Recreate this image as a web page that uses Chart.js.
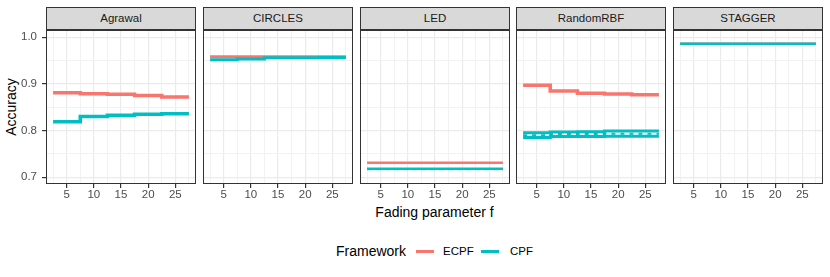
<!DOCTYPE html>
<html>
<head>
<meta charset="utf-8">
<script src="https://cdn.jsdelivr.net/npm/chart.js@4.4.1/dist/chart.umd.min.js"></script>
<style>
  body { margin: 0; width: 830px; height: 277px; background: #fff; position: relative; overflow: hidden;
         font-family: "Liberation Sans", Arial, sans-serif; }
  canvas { position: absolute; top: 30px; }
  .strip { position: absolute; top: 7px; width: 148px; height: 21px; line-height: 21px; background: #d9d9d9;
           border: 1px solid #333; color: #1a1a1a; font-size: 11.5px; text-align: center; }
  .title { position: absolute; font-size: 14px; color: #000; white-space: nowrap; }
  .key { position: absolute; height: 3px; top: 250px; }
  .klabel { position: absolute; font-size: 11.5px; color: #000; top: 244px; line-height: 15px; }
</style>
</head>
<body>
<div class="title" style="left:-66px;top:99px;width:154px;height:16px;line-height:16px;text-align:center;transform:rotate(-90deg);">Accuracy</div>
<div class="title" style="left:46px;top:204px;width:777px;line-height:17px;text-align:center;">Fading parameter f</div>
<div class="title" style="left:336px;top:243px;line-height:17px;">Framework</div>
<div class="key" style="left:416px;width:18px;background:#F8766D;"></div>
<div class="klabel" style="left:443px;">ECPF</div>
<div class="key" style="left:481px;width:18px;background:#00BFC4;"></div>
<div class="klabel" style="left:510px;">CPF</div>

<script>
const streams = ["Agrawal", "CIRCLES", "LED", "RandomRBF", "STAGGER"];
const fadingF = [2.5, 7.5, 12.5, 17.5, 22.5, 27.5];
const xTickValues = [2.5, 5, 7.5, 10, 12.5, 15, 17.5, 20, 22.5, 25, 27.5];
const yTickValues = [0.7, 0.75, 0.8, 0.85, 0.9, 0.95, 1.0];

// accuracy per fading step (last value repeats so the step reaches the end)
const ecpfAgrawal = [0.881, 0.879, 0.878, 0.875, 0.872, 0.872];
const cpfAgrawal = [0.819, 0.830, 0.833, 0.835, 0.836, 0.836];
const ecpfCircles = [0.9585, 0.9585, 0.9585, 0.9585, 0.9585, 0.9585];
const cpfCircles = [0.952, 0.9535, 0.956, 0.956, 0.9565, 0.9565];
const ecpfLed = [0.731, 0.731, 0.731, 0.731, 0.731, 0.731];
const cpfLed = [0.7182, 0.7182, 0.7182, 0.7182, 0.7182, 0.7182];
const cpfLed2 = [0.7172, 0.7172, 0.7172, 0.7172, 0.7172, 0.7172];
const ecpfRbf = [0.897, 0.885, 0.880, 0.8786, 0.877, 0.877];
const cpfRbfHigh = [0.7955, 0.797, 0.7975, 0.799, 0.799, 0.799];
const cpfRbfMid = [0.790, 0.7925, 0.793, 0.7935, 0.7935, 0.7935];
const cpfRbfLow = [0.7855, 0.7875, 0.7875, 0.788, 0.788, 0.788];
const ecpfStagger = [0.986, 0.986, 0.986, 0.986, 0.986, 0.986];
const cpfStagger = [0.986, 0.986, 0.986, 0.986, 0.986, 0.986];

const RED = "#F8766D", CYAN = "#00BFC4";
const panelLefts = [46, 203, 360, 516, 673];
const plotW = 150, plotH = 154, xAxisH = 20, yAxisW = 46;

const series = [
  [{ v: ecpfAgrawal, c: RED, w: 3.5 }, { v: cpfAgrawal, c: CYAN, w: 3.5 }],
  [{ v: ecpfCircles, c: RED, w: 3 }, { v: cpfCircles, c: CYAN, w: 3 }],
  [{ v: ecpfLed, c: RED, w: 2.5 }, { v: cpfLed, c: CYAN, w: 2.5 }, { v: cpfLed2, c: "#1fc9cd", w: 2, dash: [5, 4] }],
  [{ v: ecpfRbf, c: RED, w: 3.5 }, { v: cpfRbfHigh, c: CYAN, w: 3 }, { v: cpfRbfLow, c: CYAN, w: 3 }, { v: cpfRbfMid, c: CYAN, w: 2, dash: [4, 5] }],
  [{ v: ecpfStagger, c: RED, w: 2.5 }, { v: cpfStagger, c: CYAN, w: 2.5 }]
];

const isMajorX = (v) => Math.abs(v % 5) < 1e-9;
const isMajorY = (v) => Math.abs(v * 10 - Math.round(v * 10)) < 1e-9;

const panelBorder = {
  id: "panelBorder",
  afterDraw(chart) {
    const { ctx, chartArea: a } = chart;
    ctx.save();
    ctx.strokeStyle = "#333333";
    ctx.lineWidth = 1;
    ctx.strokeRect(a.left + 0.5, a.top + 0.5, a.right - a.left - 1, a.bottom - a.top - 1);
    ctx.restore();
  }
};

streams.forEach((name, i) => {
  const strip = document.createElement("div");
  strip.className = "strip";
  strip.style.left = panelLefts[i] + "px";
  strip.textContent = name;
  document.body.appendChild(strip);

  const leftW = i === 0 ? yAxisW : 0;
  const canvas = document.createElement("canvas");
  canvas.width = leftW + plotW;
  canvas.height = plotH + xAxisH;
  canvas.style.left = panelLefts[i] - leftW + "px";
  document.body.appendChild(canvas);

  const datasets = series[i].map((s, k) => ({
    label: name + k,
    data: fadingF.map((f, j) => ({ x: f, y: s.v[j] })),
    borderColor: s.c,
    borderWidth: s.w,
    borderDash: s.dash || [],
    stepped: true,
    pointRadius: 0,
    fill: false,
    order: s.c === RED ? 2 : 1
  }));

  new Chart(canvas, {
    type: "line",
    data: { datasets },
    options: {
      responsive: false,
      animation: false,
      devicePixelRatio: 1,
      layout: { padding: 0 },
      plugins: { legend: { display: false }, tooltip: { enabled: false } },
      scales: {
        x: {
          type: "linear",
          min: 1.2,
          max: 28.8,
          afterBuildTicks: (s) => { s.ticks = xTickValues.map((v) => ({ value: v })); },
          afterFit: (s) => { s.height = xAxisH; s.paddingLeft = 0; s.paddingRight = 0; },
          ticks: {
            autoSkip: false,
            maxRotation: 0,
            padding: 0,
            color: "#4d4d4d",
            font: { family: "Liberation Sans", size: 11.5 },
            callback: (v) => (isMajorX(v) ? String(v) : "")
          },
          grid: {
            color: (c) => (c.tick && isMajorX(c.tick.value) ? "#ebebeb" : "#f2f2f2"),
            lineWidth: (c) => (c.tick && isMajorX(c.tick.value) ? 1.2 : 1),
            tickLength: 4,
            tickColor: (c) => (c.tick && isMajorX(c.tick.value) ? "#333333" : "rgba(0,0,0,0)")
          },
          border: { display: false }
        },
        y: {
          min: 0.6856,
          max: 1.0156,
          afterBuildTicks: (s) => { s.ticks = yTickValues.map((v) => ({ value: v })); },
          afterFit: (s) => { s.width = leftW; s.paddingTop = 0; s.paddingBottom = 0; },
          ticks: {
            display: i === 0,
            autoSkip: false,
            padding: 5,
            color: "#4d4d4d",
            font: { family: "Liberation Sans", size: 11.5 },
            callback: (v) => (isMajorY(v) ? v.toFixed(1) : "")
          },
          grid: {
            color: (c) => (c.tick && isMajorY(c.tick.value) ? "#ebebeb" : "#f2f2f2"),
            lineWidth: (c) => (c.tick && isMajorY(c.tick.value) ? 1.2 : 1),
            drawTicks: i === 0,
            tickLength: 4,
            tickColor: (c) => (c.tick && isMajorY(c.tick.value) ? "#333333" : "rgba(0,0,0,0)")
          },
          border: { display: false }
        }
      }
    },
    plugins: [panelBorder]
  });
});
</script>
</body>
</html>
